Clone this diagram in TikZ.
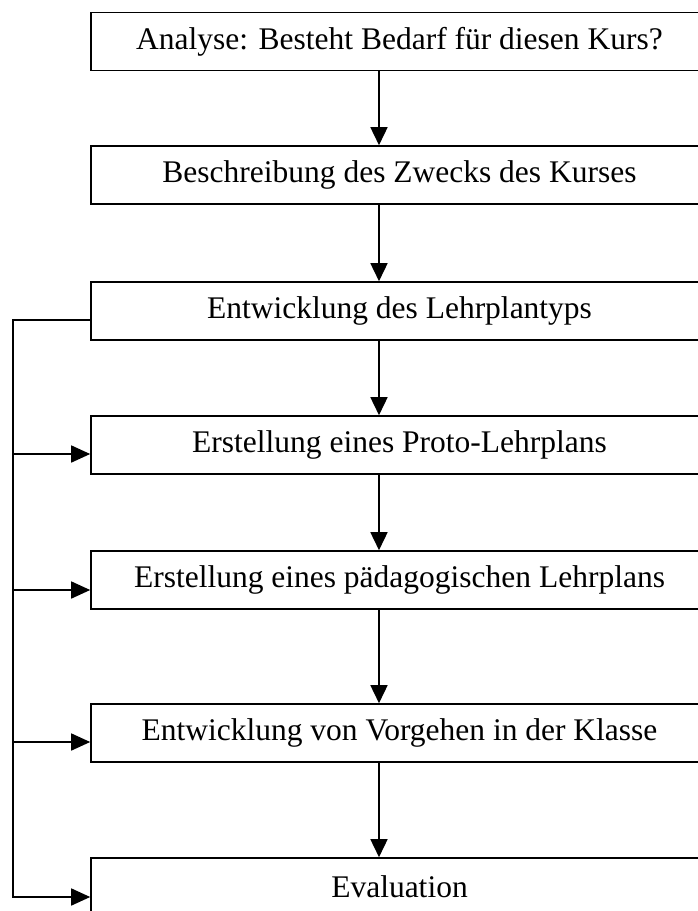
\documentclass[tikz,border=0pt]{standalone}
\usepackage{fontspec}
\setmainfont{Liberation Serif}
\usetikzlibrary{arrows.meta,positioning}

\begin{document}
\begin{tikzpicture}[x=1pt, y=-1pt,
  stage/.style={rectangle, draw=black, line width=1.6pt, inner sep=0pt,
                minimum width=617pt, minimum height=58pt,
                font=\fontsize{31.5}{36}\selectfont},
  flow/.style={-{Triangle[length=18pt, width=17pt]}, line width=1.6pt},  % step → next step
  back/.style={-{Triangle[length=19pt, width=17pt]}, line width=1.6pt},  % rail → step
]
\useasboundingbox (0,0) rectangle (697,911);

% Stages
\node[stage] (ana)    at (399.5, 41.5) {Analyse: Besteht Bedarf für diesen Kurs?};
\node[stage] (zweck)  at (399.5, 175)  {Beschreibung des Zwecks des Kurses};
\node[stage] (typ)    at (399.5, 311)  {Entwicklung des Lehrplantyps};
\node[stage] (proto)  at (399.5, 445)  {Erstellung eines Proto-Lehrplans};
\node[stage] (paed)   at (399.5, 580)  {Erstellung eines pädagogischen Lehrplans};
\node[stage] (klasse) at (399.5, 733)  {Entwicklung von Vorgehen in der Klasse};
\node[stage] (eval)   at (399.5, 887)  {Evaluation};

% Main sequence
\draw[flow] ([xshift=-20.5pt]ana.south)    -- ([xshift=-20.5pt]zweck.north);
\draw[flow] ([xshift=-20.5pt]zweck.south)  -- ([xshift=-20.5pt]typ.north);
\draw[flow] ([xshift=-20.5pt]typ.south)    -- ([xshift=-20.5pt]proto.north);
\draw[flow] ([xshift=-20.5pt]proto.south)  -- ([xshift=-20.5pt]paed.north);
\draw[flow] ([xshift=-20.5pt]paed.south)   -- ([xshift=-20.5pt]klasse.north);
\draw[flow] ([xshift=-20.5pt]klasse.south) -- ([xshift=-20.5pt]eval.north);

% Feedback rail on the left
\coordinate (rail) at (13,0);
\draw[back] ([yshift=-9pt]typ.west) -- ([yshift=-9pt]typ.west -| rail)
  -- ([yshift=-10pt]eval.west -| rail) -- ([yshift=-10pt]eval.west);
\draw[back] ([yshift=-9pt]proto.west -| rail)  -- ([yshift=-9pt]proto.west);
\draw[back] ([yshift=-10pt]paed.west -| rail)  -- ([yshift=-10pt]paed.west);
\draw[back] ([yshift=-9pt]klasse.west -| rail) -- ([yshift=-9pt]klasse.west);

\end{tikzpicture}
\end{document}
